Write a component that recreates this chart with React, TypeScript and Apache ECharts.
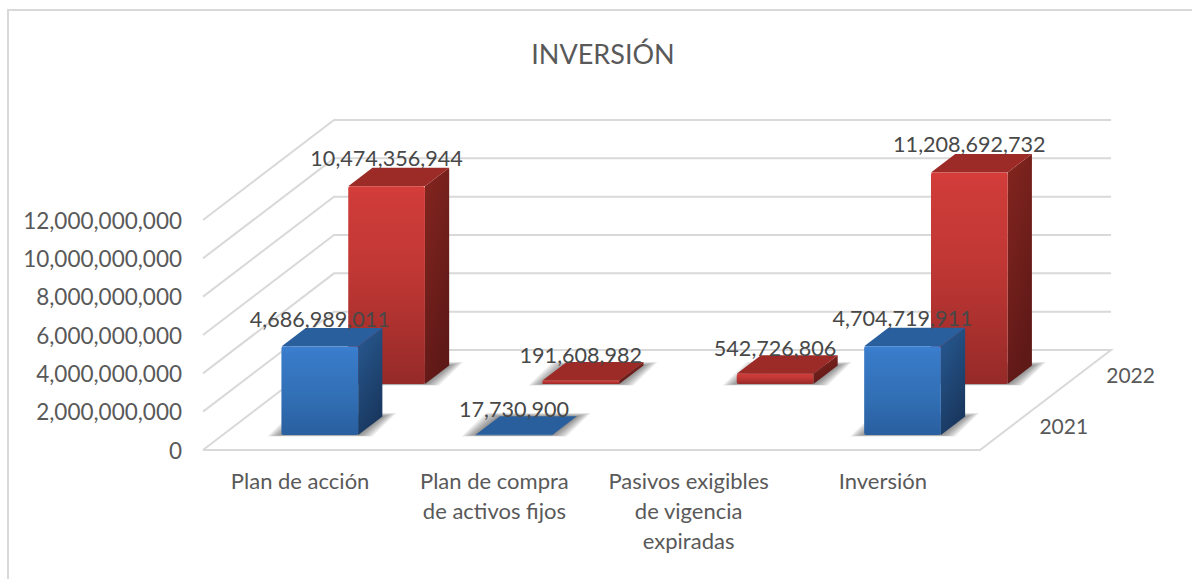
import React, { useEffect, useRef } from "react";
import * as echarts from "echarts";

const titleText = "INVERSIÓN";
const categories = [
  "Plan de acción",
  "Plan de compra\nde activos fijos",
  "Pasivos exigibles\nde vigencia\nexpiradas",
  "Inversión",
];
const seriesNames = ["2021", "2022"];
const values2021 = [4686989011, 17730900, 0, 4704719911];
const values2022 = [10474356944, 191608982, 542726806, 11208692732];
const yTicks = [0, 2000000000, 4000000000, 6000000000, 8000000000, 10000000000, 12000000000];

const FONT = "Lato";
const DEPTH_X = 131;
const DEPTH_Y = 100;
const BAR_W = 76.7;
const BAR_DEPTH = 0.185;
const HEIGHT_K = 0.985;
const SHADOW_STEPS = [14, 12, 10, 8, 6, 4, 2, 0];
const lg = (stops: [number, string][], x2 = 0, y2 = 1) =>
  new echarts.graphic.LinearGradient(0, 0, x2, y2, stops.map(([offset, color]) => ({ offset, color })));

const fmt = (v: number) => v.toLocaleString("en-US");

function barRenderer(depthStart: number, pal: any) {
  return (params: any, api: any) => {
    const idx = api.value(0);
    const val = api.value(1);
    if (!val) return { type: "group", children: [] };
    const base = api.coord([idx, 0]);
    const top = api.coord([idx, val]);
    const ox = depthStart * DEPTH_X;
    const oy = depthStart * DEPTH_Y;
    const x0 = base[0] + ox - BAR_W / 2;
    const x1 = x0 + BAR_W;
    const yb = base[1] - oy;
    const yt = yb - (base[1] - top[1]) * HEIGHT_K;
    const dx = BAR_DEPTH * DEPTH_X;
    const dy = BAR_DEPTH * DEPTH_Y;
    const shadows = SHADOW_STEPS.map((e) => ({
      type: "polygon",
      shape: {
        points: [
          [x0 - e, yb + e * 0.1],
          [x1 + e, yb + e * 0.1],
          [x1 + dx + e, yb - dy - e * 0.25],
          [x0 + dx - e, yb - dy - e * 0.25],
        ],
      },
      style: { fill: "rgba(40,40,40,0.09)" },
    }));
    const children: any[] = [
      ...shadows,
      {
        type: "polygon",
        shape: { points: [[x1, yt], [x1 + dx, yt - dy], [x1 + dx, yb - dy], [x1, yb]] },
        style: { fill: lg(pal.side, 0.4, 1) },
      },
      {
        type: "polygon",
        shape: { points: [[x0, yt], [x0 + dx, yt - dy], [x1 + dx, yt - dy], [x1, yt]] },
        style: { fill: pal.top },
      },
      {
        type: "rect",
        shape: { x: x0, y: yt, width: BAR_W, height: Math.max(yb - yt, 0.5), r: yb - yt > 6 ? 2 : 0 },
        style: { fill: lg(pal.front) },
      },
      {
        type: "text",
        x: x0 + BAR_W / 2,
        y: yt - (yb - yt < 15 ? 25.5 : 28),
        style: { text: fmt(val), fill: "#484848", fontFamily: FONT, fontSize: 21.6, align: "center", verticalAlign: "middle" },
      },
    ];
    return { type: "group", children };
  };
}

const redPal = {
  front: [[0, "#d63d3a"], [0.05, "#cf3c39"], [0.45, "#bf3734"], [1, "#952a28"]],
  side: [[0, "#84251f"], [1, "#5f1917"]],
  top: "#9c2a27",
};
const bluePal = {
  front: [[0, "#3b80d2"], [0.08, "#397bc9"], [0.55, "#3270b6"], [1, "#295f9f"]],
  side: [[0, "#285a92"], [1, "#193860"]],
  top: "#2a5f9d",
};

export default function App() {
  const ref = useRef<HTMLDivElement>(null);
  useEffect(() => {
    const chart = echarts.init(ref.current!, null, { renderer: "svg" });
    const gridColor = "#d9d9d9";
    chart.setOption({
      animation: false,
      backgroundColor: "#ffffff",
      title: {
        text: titleText,
        left: 598,
        top: 35,
        textAlign: "center",
        textStyle: { fontFamily: FONT, fontWeight: "normal", fontSize: 27, color: "#595959" },
      },
      graphic: [
        {
          type: "polyline",
          silent: true,
          shape: { points: [[8, 579], [8, 10], [1192, 10]] },
          style: { stroke: "#d9d9d9", lineWidth: 2, fill: "none" },
        },
      ],
      grid: { left: 203, width: 777, top: 220, height: 230 },
      xAxis: {
        type: "category",
        data: categories,
        axisLine: { show: false },
        axisTick: { show: false },
        axisLabel: { fontFamily: FONT, fontSize: 22, color: "#595959", lineHeight: 30, margin: 15, interval: 0 },
      },
      yAxis: {
        type: "value",
        min: 0,
        max: 12000000000,
        interval: 2000000000,
        axisLine: { show: false },
        axisTick: { show: false },
        splitLine: { show: false },
        axisLabel: { fontFamily: FONT, fontSize: 22.5, color: "#595959", margin: 21, formatter: (v: number) => fmt(v) },
      },
      series: [
        {
          type: "custom",
          silent: true,
          clip: false,
          data: yTicks.map((v) => [0, v]),
          encode: { x: 0, y: 1 },
          renderItem: (params: any, api: any) => {
            const band = api.size([1, 0])[0];
            const left = api.coord([0, api.value(1)]);
            const right = api.coord([categories.length - 1, api.value(1)]);
            const xl = left[0] - band / 2;
            const xr = right[0] + band / 2;
            const y = left[1];
            const pts = [[xl, y], [xl + DEPTH_X, y - DEPTH_Y], [xr + DEPTH_X, y - DEPTH_Y]];
            if (api.value(1) === 0) pts.push([xr, y], [xl, y]);
            return {
              type: "polyline",
              shape: { points: pts },
              style: { stroke: gridColor, lineWidth: 2, fill: "none" },
            };
          },
        },
        {
          type: "custom",
          name: seriesNames[1],
          clip: false,
          data: values2022.map((v, i) => [i, v]),
          encode: { x: 0, y: 1 },
          renderItem: barRenderer(0.66, redPal),
        },
        {
          type: "custom",
          name: seriesNames[0],
          clip: false,
          data: values2021.map((v, i) => [i, v]),
          encode: { x: 0, y: 1 },
          renderItem: barRenderer(0.15, bluePal),
        },
        {
          type: "custom",
          silent: true,
          clip: false,
          data: seriesNames.map((n, i) => [categories.length - 1, 0, i]),
          encode: { x: 0, y: 1 },
          renderItem: (params: any, api: any) => {
            const band = api.size([1, 0])[0];
            const p = api.coord([api.value(0), 0]);
            const i = api.value(2);
            const d = [0.2425, 0.7525][i];
            return {
              type: "text",
              x: p[0] + band / 2 + d * DEPTH_X + 52,
              y: p[1] - d * DEPTH_Y,
              style: {
                text: seriesNames[i],
                fill: "#595959",
                fontFamily: FONT,
                fontSize: 21,
                align: "center",
                verticalAlign: "middle",
              },
            };
          },
        },
      ],
    });
    return () => chart.dispose();
  }, []);
  return <div ref={ref} style={{ position: "absolute", left: 0, top: 0, width: 1192, height: 579 }} />;
}
